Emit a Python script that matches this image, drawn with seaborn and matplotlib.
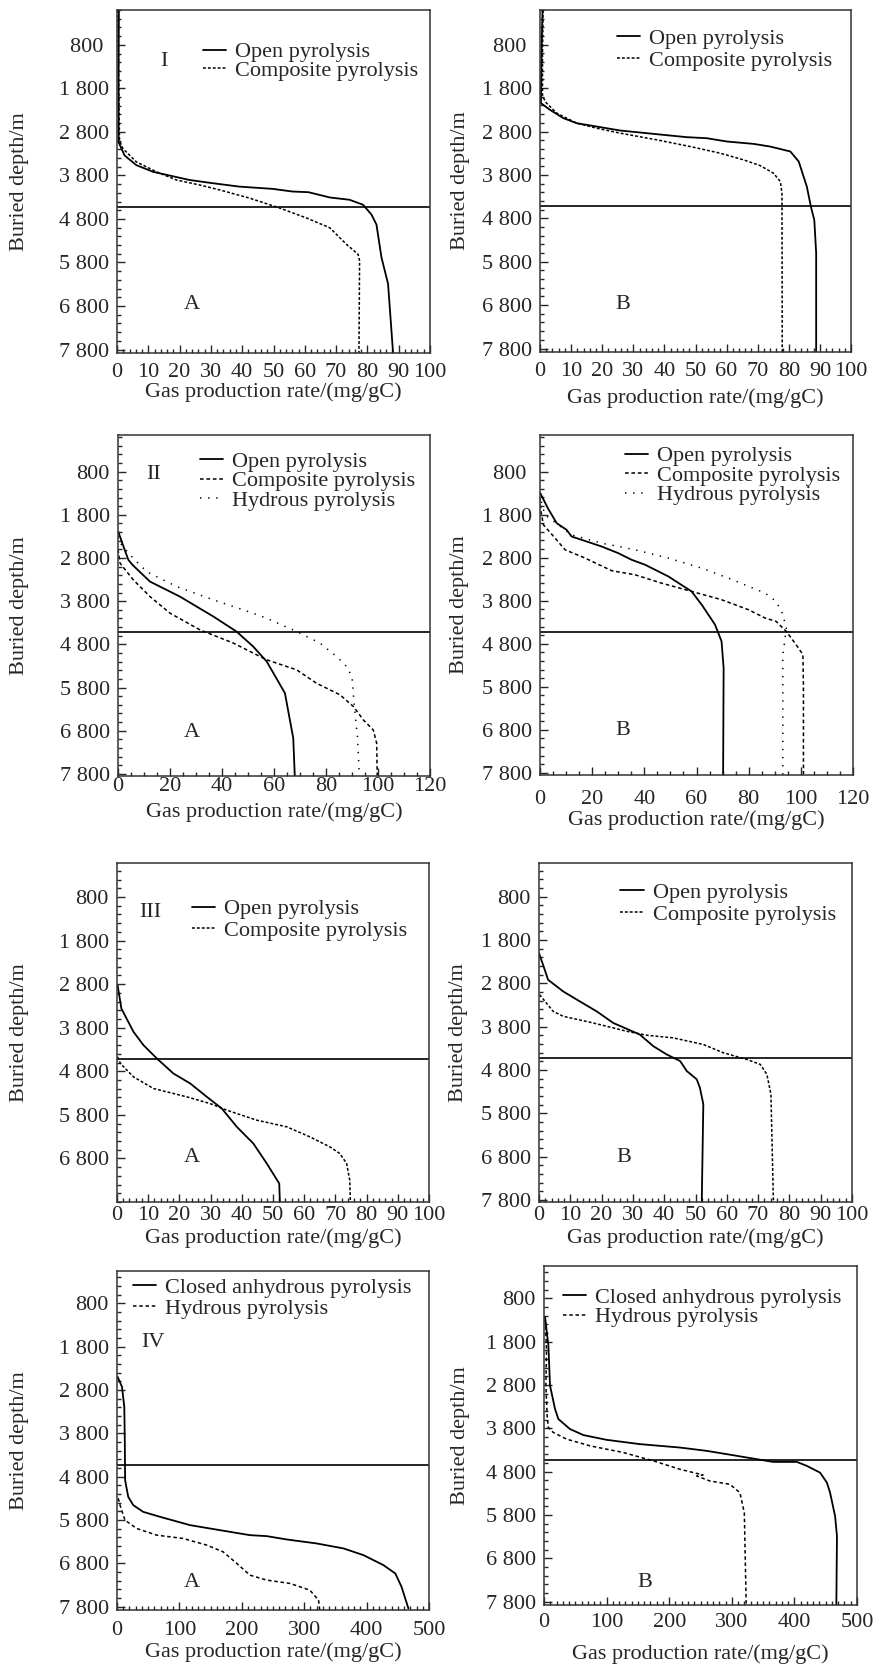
# Gas production rate vs buried depth, 8 panels (types I-IV, A/B)
import matplotlib
matplotlib.use('Agg')
import pandas as pd
import matplotlib.pyplot as plt
import seaborn as sns
from matplotlib.ticker import MultipleLocator, FixedLocator, FuncFormatter

# ---- data (depth in m, rate in mg/gC) ----
ia_open_depth = [0, 1500, 3035, 3340, 3565, 3717, 3906, 3980, 4057, 4110, 4170, 4186, 4307, 4360, 4474, 4700, 4930, 5686, 6290, 7880]
ia_open_rate = [0.6, 0.5, 0.5, 2.4, 6.2, 11.5, 23.2, 30.7, 39.0, 49.8, 56.0, 61.2, 68.0, 74.3, 78.6, 81.3, 82.9, 84.5, 86.6, 88.2]
ia_comp_depth = [0, 1500, 3000, 3186, 3490, 3717, 3906, 4020, 4133, 4323, 4550, 4777, 5004, 5383, 5610, 5760, 7880]
ia_comp_rate = [0.3, 0.5, 0.8, 1.9, 6.2, 12.6, 19.0, 26.4, 32.8, 42.4, 52.0, 60.5, 68.0, 73.3, 77.0, 77.5, 77.3]

ib_open_depth = [0, 1000, 2146, 2300, 2492, 2608, 2685, 2777, 2838, 2877, 2930, 2954, 3030, 3085, 3146, 3260, 3492, 4070, 4530, 4840, 5600, 7880]
ib_open_rate = [0.8, 0.5, 0.3, 3.2, 7.5, 11.8, 18.2, 25.8, 34.3, 39.7, 47.2, 53.6, 60.1, 68.7, 74.0, 80.5, 83.2, 85.8, 87.1, 88.2, 88.8, 88.8]
ib_comp_depth = [0, 1000, 1990, 2146, 2377, 2608, 2723, 2838, 2992, 3146, 3300, 3454, 3585, 3762, 3954, 4223, 7880]
ib_comp_rate = [1.0, 0.8, 0.8, 2.1, 5.4, 11.8, 18.2, 25.8, 37.6, 48.3, 58.0, 65.5, 70.8, 75.1, 77.3, 77.8, 77.9]

iia_open_depth = [2190, 2600, 2844, 2960, 3346, 3693, 4156, 4504, 4851, 5198, 5930, 6971, 7860]
iia_open_rate = [0.1, 2.5, 4.0, 5.6, 12.3, 23.8, 36.7, 45.6, 52.0, 57.2, 64.2, 67.4, 68.0]
iia_comp_depth = [2600, 2921, 3307, 3693, 4078, 4464, 4772, 5159, 5390, 5703, 5969, 6244, 6553, 6785, 7093, 7840]
iia_comp_rate = [0.0, 0.8, 5.9, 12.3, 20.0, 31.5, 44.4, 57.2, 68.7, 76.4, 85.4, 90.6, 94.4, 98.2, 99.5, 99.7]
iia_hyd_depth = [2300, 2450, 2728, 3115, 3462, 3770, 4001, 4194, 4504, 4772, 5082, 5317, 5549, 6167, 6939, 7840]
iia_hyd_rate = [0.0, 0.8, 4.6, 11.0, 22.6, 36.7, 48.2, 57.2, 68.7, 77.7, 84.1, 88.0, 90.0, 90.8, 92.1, 92.8]

iib_open_depth = [1300, 1650, 1999, 2153, 2308, 2540, 2695, 2849, 2965, 3236, 3584, 3893, 4357, 4744, 5364, 7877]
iib_open_rate = [0.1, 3.0, 6.4, 10.2, 12.1, 23.6, 30.0, 35.1, 40.3, 49.2, 58.1, 62.0, 67.1, 69.6, 70.4, 70.2]
iib_comp_depth = [1420, 1700, 2037, 2347, 2617, 2810, 3104, 3197, 3392, 3584, 3777, 4009, 4203, 4280, 4512, 4822, 5054, 5800, 7877]
iib_comp_rate = [0.0, 0.3, 1.3, 5.8, 9.6, 17.3, 27.5, 36.4, 46.6, 58.1, 69.6, 79.9, 86.3, 90.5, 94.4, 98.2, 100.8, 101.0, 101.0]
iib_hyd_depth = [1500, 1805, 2269, 2463, 2617, 2810, 3043, 3275, 3623, 3816, 4100, 4436, 4750, 5054, 7877]
iib_hyd_rate = [0.5, 1.9, 12.1, 23.6, 36.4, 49.2, 62.0, 72.2, 86.3, 90.5, 93.0, 94.4, 93.8, 93.1, 93.1]

iiia_open_depth = [2826, 3361, 3896, 4202, 4508, 4852, 5081, 5387, 5655, 6075, 6457, 6916, 7375, 7800]
iiia_open_rate = [0.2, 1.4, 5.3, 8.5, 12.8, 18.1, 23.5, 28.8, 33.6, 38.4, 43.7, 48.0, 52.0, 52.2]
iiia_comp_depth = [4470, 4623, 4929, 5196, 5387, 5540, 5693, 5922, 6075, 6304, 6534, 6687, 6916, 7298, 7800]
iiia_comp_rate = [0.2, 1.1, 5.3, 11.7, 22.4, 29.8, 35.2, 44.8, 54.4, 61.8, 68.2, 71.4, 73.6, 74.6, 74.8]

iiib_open_depth = [2104, 2372, 2717, 2985, 3215, 3445, 3714, 3982, 4250, 4442, 4595, 4825, 5017, 5209, 5592, 7854]
iiib_open_rate = [0.0, 1.3, 2.9, 7.7, 13.0, 18.4, 23.7, 32.2, 36.5, 40.8, 45.1, 47.2, 50.4, 51.4, 52.5, 52.0]
iiib_comp_depth = [3062, 3445, 3560, 3714, 3906, 3998, 4059, 4212, 4404, 4557, 4672, 4902, 5363, 7854]
iiib_comp_rate = [0.2, 4.5, 7.7, 17.3, 28.0, 34.4, 42.9, 52.5, 58.9, 66.4, 70.7, 72.8, 74.1, 74.9]

iva_closed_depth = [2495, 2726, 3188, 4000, 4881, 5266, 5458, 5613, 5728, 5920, 6036, 6151, 6174, 6251, 6343, 6458, 6613, 6844, 7036, 7345, 7844]
iva_closed_rate = [1, 8, 11.7, 12.5, 13, 18, 26, 42, 69, 117, 165, 213, 240, 272, 320, 363, 395, 427, 446, 456, 467]
iva_hyd_depth = [5300, 5458, 5805, 5997, 6151, 6228, 6382, 6536, 6805, 7075, 7190, 7266, 7421, 7652, 7883]
iva_hyd_rate = [2, 4.8, 12.8, 31.5, 63.6, 106, 144, 170, 192, 213, 240, 277, 309, 323, 325]

ivb_closed_depth = [1227, 1883, 2811, 3352, 3584, 3816, 3955, 4065, 4164, 4243, 4320, 4420, 4512, 4575, 4575, 4668, 4823, 5055, 5287, 5827, 6291, 7880]
ivb_closed_rate = [1.6, 7, 9.6, 17.6, 22.9, 41.5, 62.8, 100, 153, 217, 260, 302, 340, 366, 404, 420, 441, 452, 457, 465, 468, 467]
ivb_hyd_depth = [1300, 2000, 2811, 3500, 3779, 3895, 4048, 4204, 4359, 4552, 4744, 4877, 4900, 5016, 5092, 5287, 5750, 7880]
ivb_hyd_rate = [2, 4, 3, 5, 6.9, 14.9, 36, 73.5, 127, 175, 217, 254, 244, 265, 297, 313, 320, 323]

boundary_depth = 4520
depth_ticks = [800, 1800, 2800, 3800, 4800, 5800, 6800, 7800]

sns.set_style('ticks')
plt.rcParams['font.family'] = ['Liberation Serif', 'DejaVu Serif']
FS = 16

solid = ('-', 1.3)
dash = ((0, (1.9, 1.3)), 1.1)
dash2 = ((0, (2.4, 1.8)), 1.1)
dots = ((0, (0.9, 4.4)), 1.1)
dash4 = ((0, (2.3, 1.8)), 1.1)


def depth_label(v, pos, pad800=False):
    v = int(round(v))
    if v >= 1000:
        return f"{v // 1000} {v % 1000:03d}"
    return f"{v} " if pad800 else f"{v}"


def draw(fig, box, series, xmax, xmaj, xmin, ylim, roman, letter, leg_xy, xlab_y,
         ylab_x, xpad, yticks=depth_ticks, pad800=False, roman_xy=None, letter_xy=None,
         lspace=-0.1):
    l, t, r, b = box
    ax = fig.add_axes([l / 881, 1 - b / 1666, (r - l) / 881, (b - t) / 1666])
    for depth, rate, (ls, lw), lab in series:
        df = pd.DataFrame({'depth': depth, 'rate': rate})
        sns.lineplot(data=df, x='rate', y='depth', sort=False, estimator=None, ax=ax,
                     color='black', lw=lw, linestyle=ls, label=lab)
    ax.axhline(boundary_depth, color='black', lw=1.2)
    ax.set_xlim(0, xmax)
    ax.set_ylim(*ylim)
    ax.xaxis.set_major_locator(MultipleLocator(xmaj))
    ax.xaxis.set_minor_locator(MultipleLocator(xmin))
    ax.yaxis.set_major_locator(FixedLocator(yticks))
    ax.yaxis.set_minor_locator(MultipleLocator(200))
    ax.yaxis.set_major_formatter(FuncFormatter(lambda v, p: depth_label(v, p, pad800)))
    ax.tick_params(axis='both', which='major', direction='in', length=6, width=1,
                   labelsize=FS, top=False, right=False)
    ax.tick_params(axis='both', which='minor', direction='in', length=3, width=1,
                   top=False, right=False)
    ax.tick_params(axis='x', which='major', pad=xpad)
    ax.tick_params(axis='y', which='major', pad=6)
    for s in ax.spines.values():
        s.set_color('#333333')
        s.set_linewidth(1.1)
    ax.set_xlabel('Gas production rate/(mg/gC)', fontsize=FS, va='top')
    ax.xaxis.set_label_coords(0.5, xlab_y)
    ax.set_ylabel('Buried depth/m', fontsize=FS, va='center')
    ax.yaxis.set_label_coords(ylab_x, 0.5)
    lines = [ln for ln in ax.lines if not ln.get_label().startswith('_')]
    ax.legend(handles=lines, labels=[ln.get_label() for ln in lines], loc='upper left',
              bbox_to_anchor=leg_xy, frameon=False, fontsize=FS, handlelength=1.05,
              handletextpad=0.4, labelspacing=lspace, borderpad=0, borderaxespad=0)
    if roman:
        ax.text(roman_xy[0], roman_xy[1], roman, transform=ax.transAxes, fontsize=FS,
                ha='center', va='center')
    ax.text(letter_xy[0], letter_xy[1], letter, transform=ax.transAxes, fontsize=FS,
            ha='center', va='center')
    return ax


fig = plt.figure(figsize=(8.81, 16.66), dpi=100)

draw(fig, (117, 10, 430, 353),
     [(ia_open_depth, ia_open_rate, solid, 'Open pyrolysis'),
      (ia_comp_depth, ia_comp_rate, dash, 'Composite pyrolysis')],
     100, 10, 2, (7880, 0), 'I', 'A', (0.275, 0.907), -0.085, -0.313, 7, pad800=True,
     roman_xy=(0.15, 0.85), letter_xy=(0.24, 0.14))
draw(fig, (540, 10, 851, 352),
     [(ib_open_depth, ib_open_rate, solid, 'Open pyrolysis'),
      (ib_comp_depth, ib_comp_rate, dash, 'Composite pyrolysis')],
     100, 10, 2, (7880, 0), None, 'B', (0.248, 0.947), -0.105, -0.257, 7, pad800=True,
     letter_xy=(0.267, 0.14), lspace=0.08)

draw(fig, (118, 435, 430, 776),
     [(iia_open_depth, iia_open_rate, solid, 'Open pyrolysis'),
      (iia_comp_depth, iia_comp_rate, dash2, 'Composite pyrolysis'),
      (iia_hyd_depth, iia_hyd_rate, dots, 'Hydrous pyrolysis')],
     120, 20, 5, (7850, -50), 'II', 'A', (0.263, 0.952), -0.077, -0.316, 1,
     roman_xy=(0.115, 0.883), letter_xy=(0.237, 0.129), lspace=-0.05)
draw(fig, (540, 435, 853, 775),
     [(iib_open_depth, iib_open_rate, solid, 'Open pyrolysis'),
      (iib_comp_depth, iib_comp_rate, dash2, 'Composite pyrolysis'),
      (iib_hyd_depth, iib_hyd_rate, dots, 'Hydrous pyrolysis')],
     120, 20, 5, (7850, -50), None, 'B', (0.27, 0.968), -0.103, -0.257, 11, pad800=True,
     letter_xy=(0.265, 0.13), lspace=-0.05)

draw(fig, (117, 863, 429, 1202),
     [(iiia_open_depth, iiia_open_rate, solid, 'Open pyrolysis'),
      (iiia_comp_depth, iiia_comp_rate, dash, 'Composite pyrolysis')],
     100, 10, 2, (7800, 20), 'III', 'A', (0.24, 0.894), -0.078, -0.313, 3,
     yticks=depth_ticks[:-1], roman_xy=(0.106, 0.855), letter_xy=(0.24, 0.13), lspace=0.05)
draw(fig, (539, 863, 852, 1202),
     [(iiib_open_depth, iiib_open_rate, solid, 'Open pyrolysis'),
      (iiib_comp_depth, iiib_comp_rate, dash, 'Composite pyrolysis')],
     100, 10, 2, (7850, 20), None, 'B', (0.26, 0.944), -0.078, -0.257, 3,
     letter_xy=(0.27, 0.13), lspace=0.08)

draw(fig, (117, 1271, 429, 1610),
     [(iva_closed_depth, iva_closed_rate, solid, 'Closed anhydrous pyrolysis'),
      (iva_hyd_depth, iva_hyd_rate, dash4, 'Hydrous pyrolysis')],
     500, 100, 10, (7880, 50), 'IV', 'A', (0.05, 0.982), -0.094, -0.313, 8,
     roman_xy=(0.115, 0.788), letter_xy=(0.24, 0.08), lspace=0.03)
draw(fig, (544, 1266, 857, 1605),
     [(ivb_closed_depth, ivb_closed_rate, solid, 'Closed anhydrous pyrolysis'),
      (ivb_hyd_depth, ivb_hyd_rate, dash4, 'Hydrous pyrolysis')],
     500, 100, 10, (7880, 50), None, 'B', (0.06, 0.938), -0.115, -0.268, 6,
     letter_xy=(0.323, 0.065), lspace=-0.03)

fig.savefig('out.png', dpi=100, facecolor='white')
